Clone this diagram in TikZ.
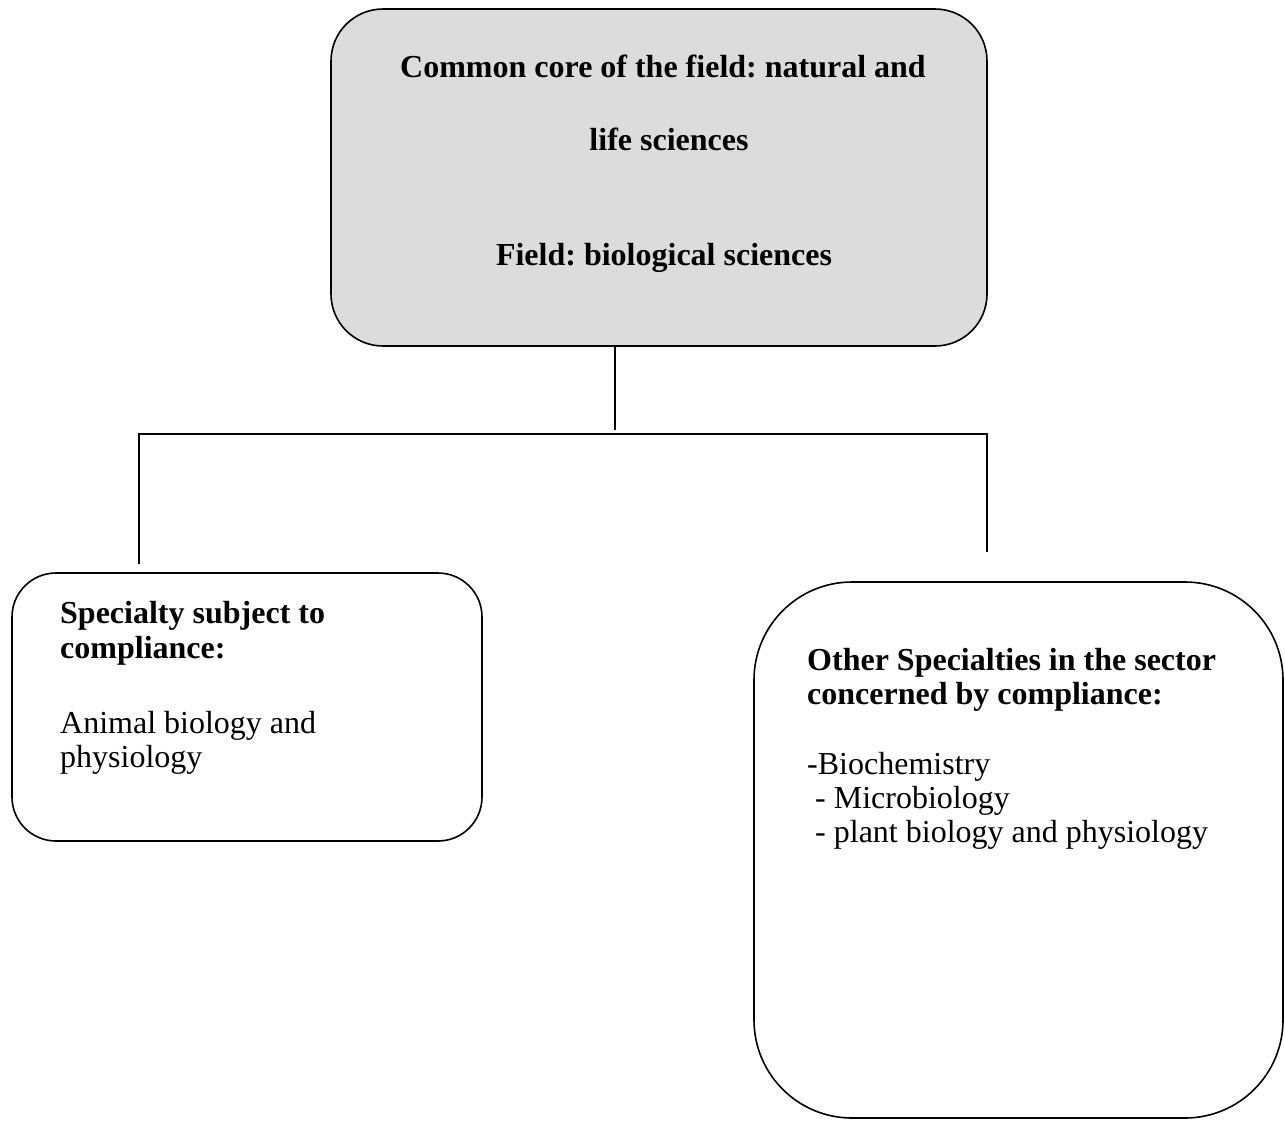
\documentclass[tikz,border=0pt]{standalone}
\usepackage{fontspec}
\setmainfont{Liberation Serif}
\frenchspacing
\definecolor{corefill}{RGB}{220,220,220}
\tikzset{
  boxbase/.style={draw=black, line width=1.6pt, inner sep=0pt, rectangle},
  corebox/.style={boxbase, fill=corefill, rounded corners=52pt, minimum width=656pt, minimum height=337pt},
  leftbox/.style={boxbase, rounded corners=44pt, minimum width=470pt, minimum height=268pt},
  rightbox/.style={boxbase, rounded corners=98pt, minimum width=529pt, minimum height=536pt},
  conn/.style={draw=black, line width=1.6pt},
  txt/.style={inner sep=0pt, font=\fontsize{32}{34}\selectfont},
  btxt/.style={txt, font=\fontsize{32}{34}\selectfont\bfseries},
}
\begin{document}
\begin{tikzpicture}[x=1pt,y=-1pt]
\useasboundingbox (0,0) rectangle (1285,1120);
% boxes
\node[corebox] (core) at (659,177.5) {};
\node[leftbox] (spec) at (247,707) {};
\node[rightbox] (other) at (1018.5,850) {};
% texts in top box
\node[btxt, anchor=base] (c1) at (663,77) {Common core of the field: natural and};
\node[btxt, anchor=base] (c2) at (669,150) {life sciences};
\node[btxt, anchor=base] (c3) at (664,265) {Field: biological sciences};
% texts in left box
\node[btxt, anchor=base west] (s1) at (60,623) {Specialty subject to};
\node[btxt, anchor=base west] (s2) at (60,658) {compliance:};
\node[txt, anchor=base west] (s3) at (60,733) {Animal biology and};
\node[txt, anchor=base west] (s4) at (60,767) {physiology};
% texts in right box
\node[btxt, anchor=base west] (o1) at (807,670) {Other Specialties in the sector};
\node[btxt, anchor=base west] (o2) at (807,704) {concerned by compliance:};
\node[txt, anchor=base west] (o3) at (807,774) {-Biochemistry};
\node[txt, anchor=base west] (o4) at (807,808) {\ - Microbiology};
\node[txt, anchor=base west] (o5) at (807,842) {\ - plant biology and physiology};
% connectors
\coordinate (hub) at (615,430);
\coordinate (busL) at (139,434);
\coordinate (busR) at (987,434);
\coordinate (endL) at (139,564);
\coordinate (endR) at (987,552);
\draw[conn] (core.south -| hub) -- (hub);
\draw[conn] (endL) -- (busL) -- (busR) -- (endR);
\end{tikzpicture}
\end{document}
